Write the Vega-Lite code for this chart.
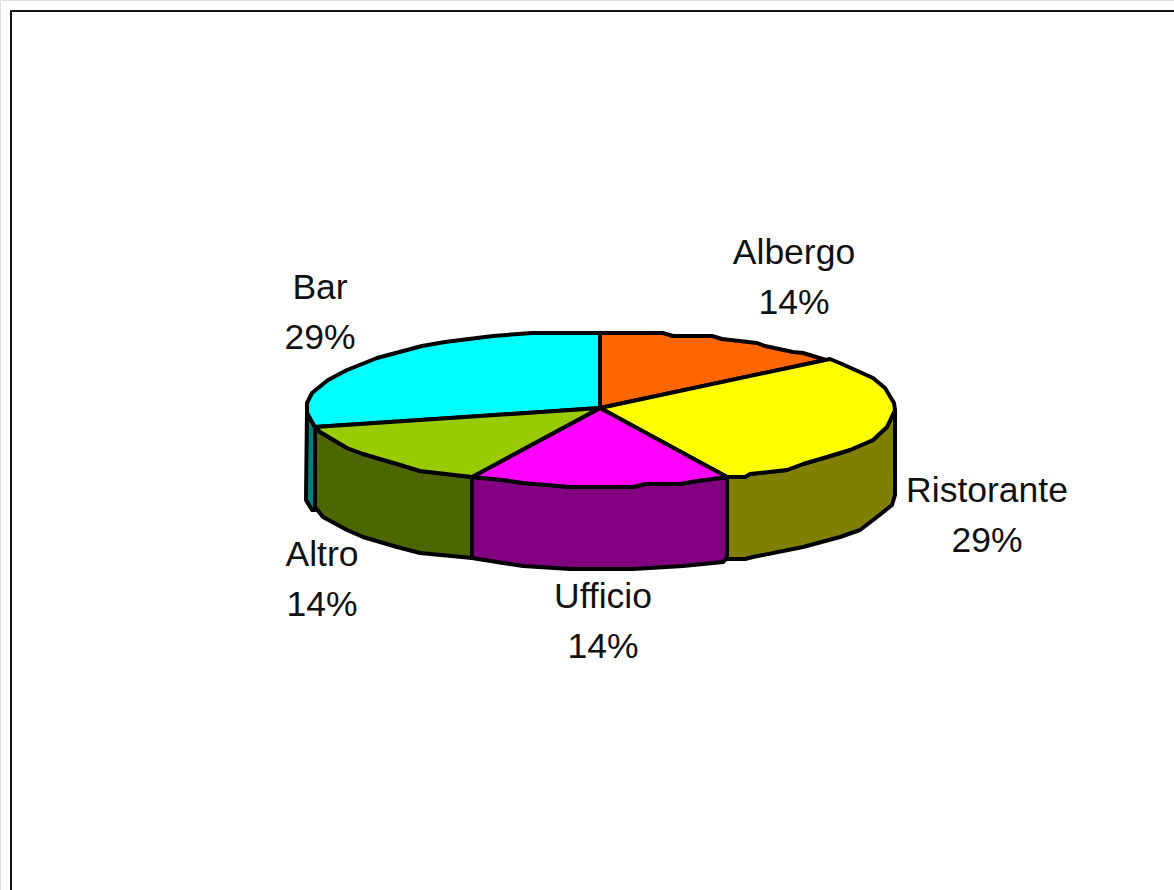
{"$schema":"https://vega.github.io/schema/vega-lite/v6.json","width":1174,"height":890,"padding":0,"autosize":{"type":"none"},"background":"white","datasets":{"frame":[{"x":11,"y":890},{"x":11,"y":11},{"x":1174,"y":11}],"shapes":[
{"part":"Altro lato","seq":1,"x":315,"y":428},{"part":"Altro lato","seq":2,"x":320,"y":432},{"part":"Altro lato","seq":3,"x":347,"y":448},{"part":"Altro lato","seq":4,"x":363,"y":454},{"part":"Altro lato","seq":5,"x":397,"y":464},{"part":"Altro lato","seq":6,"x":420,"y":471},{"part":"Altro lato","seq":7,"x":472,"y":477},{"part":"Altro lato","seq":8,"x":472,"y":558},{"part":"Altro lato","seq":9,"x":420,"y":553},{"part":"Altro lato","seq":10,"x":397,"y":547},{"part":"Altro lato","seq":11,"x":363,"y":537},{"part":"Altro lato","seq":12,"x":347,"y":530},{"part":"Altro lato","seq":13,"x":323,"y":517},{"part":"Altro lato","seq":14,"x":315,"y":507},{"part":"Altro lato","seq":15,"x":315,"y":428},
{"part":"Bar lato","seq":1,"x":307,"y":410},{"part":"Bar lato","seq":2,"x":315,"y":428},{"part":"Bar lato","seq":3,"x":315,"y":510},{"part":"Bar lato","seq":4,"x":312,"y":510},{"part":"Bar lato","seq":5,"x":306,"y":500},{"part":"Bar lato","seq":6,"x":307,"y":410},
{"part":"Ufficio lato","seq":1,"x":472,"y":477},{"part":"Ufficio lato","seq":2,"x":503,"y":480},{"part":"Ufficio lato","seq":3,"x":523,"y":483},{"part":"Ufficio lato","seq":4,"x":570,"y":487},{"part":"Ufficio lato","seq":5,"x":633,"y":487},{"part":"Ufficio lato","seq":6,"x":645,"y":484},{"part":"Ufficio lato","seq":7,"x":680,"y":484},{"part":"Ufficio lato","seq":8,"x":697,"y":481},{"part":"Ufficio lato","seq":9,"x":727,"y":477},{"part":"Ufficio lato","seq":10,"x":727,"y":558},{"part":"Ufficio lato","seq":11,"x":723,"y":562},{"part":"Ufficio lato","seq":12,"x":683,"y":566},{"part":"Ufficio lato","seq":13,"x":633,"y":569},{"part":"Ufficio lato","seq":14,"x":570,"y":569},{"part":"Ufficio lato","seq":15,"x":523,"y":566},{"part":"Ufficio lato","seq":16,"x":503,"y":563},{"part":"Ufficio lato","seq":17,"x":472,"y":558},{"part":"Ufficio lato","seq":18,"x":472,"y":477},
{"part":"Ristorante lato","seq":1,"x":727,"y":477},{"part":"Ristorante lato","seq":2,"x":745,"y":477},{"part":"Ristorante lato","seq":3,"x":750,"y":474},{"part":"Ristorante lato","seq":4,"x":787,"y":470},{"part":"Ristorante lato","seq":5,"x":803,"y":464},{"part":"Ristorante lato","seq":6,"x":827,"y":457},{"part":"Ristorante lato","seq":7,"x":850,"y":450},{"part":"Ristorante lato","seq":8,"x":873,"y":440},{"part":"Ristorante lato","seq":9,"x":887,"y":427},{"part":"Ristorante lato","seq":10,"x":895,"y":410},{"part":"Ristorante lato","seq":11,"x":895,"y":495},{"part":"Ristorante lato","seq":12,"x":892,"y":505},{"part":"Ristorante lato","seq":13,"x":877,"y":517},{"part":"Ristorante lato","seq":14,"x":860,"y":530},{"part":"Ristorante lato","seq":15,"x":840,"y":537},{"part":"Ristorante lato","seq":16,"x":803,"y":547},{"part":"Ristorante lato","seq":17,"x":753,"y":557},{"part":"Ristorante lato","seq":18,"x":745,"y":559},{"part":"Ristorante lato","seq":19,"x":727,"y":559},{"part":"Ristorante lato","seq":20,"x":727,"y":477},
{"part":"Bar","seq":1,"x":600,"y":408},{"part":"Bar","seq":2,"x":315,"y":427},{"part":"Bar","seq":3,"x":307,"y":413},{"part":"Bar","seq":4,"x":307,"y":403},{"part":"Bar","seq":5,"x":312,"y":393},{"part":"Bar","seq":6,"x":328,"y":380},{"part":"Bar","seq":7,"x":347,"y":370},{"part":"Bar","seq":8,"x":377,"y":358},{"part":"Bar","seq":9,"x":422,"y":346},{"part":"Bar","seq":10,"x":445,"y":342},{"part":"Bar","seq":11,"x":493,"y":336},{"part":"Bar","seq":12,"x":532,"y":333},{"part":"Bar","seq":13,"x":600,"y":333},{"part":"Bar","seq":14,"x":600,"y":408},
{"part":"Albergo","seq":1,"x":600,"y":408},{"part":"Albergo","seq":2,"x":600,"y":333},{"part":"Albergo","seq":3,"x":663,"y":333},{"part":"Albergo","seq":4,"x":673,"y":336},{"part":"Albergo","seq":5,"x":712,"y":336},{"part":"Albergo","seq":6,"x":722,"y":339},{"part":"Albergo","seq":7,"x":757,"y":343},{"part":"Albergo","seq":8,"x":765,"y":346},{"part":"Albergo","seq":9,"x":793,"y":352},{"part":"Albergo","seq":10,"x":803,"y":353},{"part":"Albergo","seq":11,"x":826,"y":360},{"part":"Albergo","seq":12,"x":600,"y":408},
{"part":"Ristorante","seq":1,"x":600,"y":408},{"part":"Ristorante","seq":2,"x":830,"y":359},{"part":"Ristorante","seq":3,"x":842,"y":364},{"part":"Ristorante","seq":4,"x":873,"y":378},{"part":"Ristorante","seq":5,"x":885,"y":388},{"part":"Ristorante","seq":6,"x":894,"y":403},{"part":"Ristorante","seq":7,"x":895,"y":410},{"part":"Ristorante","seq":8,"x":887,"y":427},{"part":"Ristorante","seq":9,"x":873,"y":440},{"part":"Ristorante","seq":10,"x":850,"y":450},{"part":"Ristorante","seq":11,"x":827,"y":457},{"part":"Ristorante","seq":12,"x":803,"y":464},{"part":"Ristorante","seq":13,"x":787,"y":470},{"part":"Ristorante","seq":14,"x":750,"y":474},{"part":"Ristorante","seq":15,"x":745,"y":477},{"part":"Ristorante","seq":16,"x":727,"y":477},{"part":"Ristorante","seq":17,"x":600,"y":408},
{"part":"Ufficio","seq":1,"x":600,"y":408},{"part":"Ufficio","seq":2,"x":727,"y":477},{"part":"Ufficio","seq":3,"x":697,"y":481},{"part":"Ufficio","seq":4,"x":680,"y":484},{"part":"Ufficio","seq":5,"x":645,"y":484},{"part":"Ufficio","seq":6,"x":633,"y":487},{"part":"Ufficio","seq":7,"x":570,"y":487},{"part":"Ufficio","seq":8,"x":523,"y":483},{"part":"Ufficio","seq":9,"x":503,"y":480},{"part":"Ufficio","seq":10,"x":472,"y":477},{"part":"Ufficio","seq":11,"x":600,"y":408},
{"part":"Altro","seq":1,"x":600,"y":408},{"part":"Altro","seq":2,"x":472,"y":477},{"part":"Altro","seq":3,"x":420,"y":471},{"part":"Altro","seq":4,"x":397,"y":464},{"part":"Altro","seq":5,"x":363,"y":454},{"part":"Altro","seq":6,"x":347,"y":448},{"part":"Altro","seq":7,"x":320,"y":432},{"part":"Altro","seq":8,"x":315,"y":427},{"part":"Altro","seq":9,"x":600,"y":408}
],"labels":[{"label":"Albergo\n14%","x":794,"y":253},{"label":"Bar\n29%","x":320,"y":288},{"label":"Ristorante\n29%","x":987,"y":491},{"label":"Altro\n14%","x":322,"y":555},{"label":"Ufficio\n14%","x":603,"y":597}]},
"layer":[
{"data":{"name":"frame"},"mark":{"type":"line","stroke":"#111111","strokeWidth":2,"clip":true},"encoding":{"x":{"field":"x","type":"quantitative","scale":{"domain":[0,1174]},"axis":null},"y":{"field":"y","type":"quantitative","scale":{"domain":[890,0]},"axis":null},"order":{"field":"y","sort":"descending"}}},
{"data":{"name":"shapes"},"mark":{"type":"line","stroke":"black","strokeWidth":4,"strokeJoin":"round"},"encoding":{"x":{"field":"x","type":"quantitative","scale":{"domain":[0,1174]},"axis":null},"y":{"field":"y","type":"quantitative","scale":{"domain":[890,0]},"axis":null},"order":{"field":"seq","type":"quantitative"},"detail":{"field":"part"},"fill":{"field":"part","type":"nominal","legend":null,"scale":{"domain":["Altro lato","Bar lato","Ufficio lato","Ristorante lato","Bar","Albergo","Ristorante","Ufficio","Altro"],"range":["#4d6600","#008080","#800080","#808000","#00ffff","#ff6600","#ffff00","#ff00ff","#99cc00"]}}}},
{"data":{"name":"labels"},"mark":{"type":"text","font":"Liberation Sans","fontSize":35.5,"lineBreak":"\n","lineHeight":49.5,"align":"center","baseline":"middle","color":"#111111"},"encoding":{"x":{"field":"x","type":"quantitative","scale":{"domain":[0,1174]},"axis":null},"y":{"field":"y","type":"quantitative","scale":{"domain":[890,0]},"axis":null},"text":{"field":"label"}}}
]}
